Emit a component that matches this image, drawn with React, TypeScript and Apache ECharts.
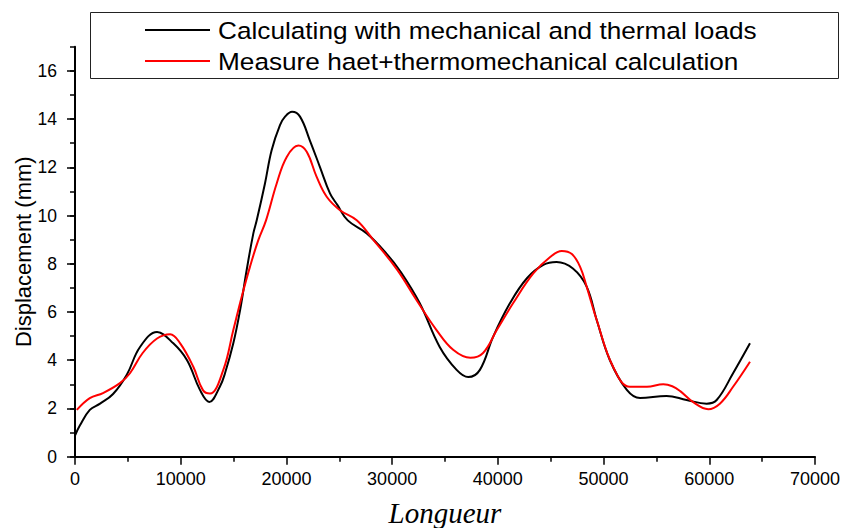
import React, { useEffect, useRef } from "react";
import * as echarts from "echarts";

const calcX = [0, 470, 1400, 2370, 3600, 4900, 6150, 7760, 9300, 10600, 11830, 12700, 13700, 14190, 14975, 15610, 16240, 16870, 17190, 17970, 18600, 19390, 19870, 20530, 21285, 22230, 23180, 24120, 24800, 25800, 27600, 29500, 30750, 32600, 34500, 36100, 37200, 38300, 39550, 41150, 42750, 44300, 45550, 47100, 48400, 49350, 50600, 52200, 53450, 55950, 57850, 59750, 60700, 62250, 63850];
const calcY = [0.88, 1.3, 1.94, 2.2, 2.6, 3.4, 4.55, 5.17, 4.7, 4.0, 2.76, 2.27, 2.9, 3.46, 4.7, 6.06, 7.74, 9.26, 9.8, 11.33, 12.71, 13.75, 14.1, 14.3, 14.1, 13.1, 12.0, 10.92, 10.45, 9.8, 9.26, 8.4, 7.7, 6.37, 4.55, 3.6, 3.3, 3.6, 4.97, 6.37, 7.4, 7.95, 8.07, 7.8, 7.05, 5.67, 4.0, 2.77, 2.43, 2.52, 2.35, 2.2, 2.35, 3.46, 4.7];

const measX = [170, 1400, 2650, 4250, 5200, 6400, 7760, 9000, 9950, 11200, 12100, 12770, 14030, 14975, 15770, 16555, 17340, 18070, 19080, 20030, 21130, 21920, 22860, 23810, 25070, 26650, 28200, 30450, 32300, 34200, 35800, 37400, 38600, 39900, 41450, 43350, 44950, 46050, 47000, 47800, 48400, 49350, 50900, 52500, 54100, 55650, 56500, 57250, 58450, 59900, 61000, 62250, 63850];
const measY = [1.94, 2.43, 2.64, 3.05, 3.46, 4.3, 4.9, 5.08, 4.7, 3.72, 2.76, 2.62, 3.6, 5.25, 6.63, 7.88, 8.98, 9.8, 11.33, 12.43, 12.9, 12.64, 11.6, 10.78, 10.22, 9.8, 9.0, 7.77, 6.5, 5.25, 4.42, 4.1, 4.3, 5.25, 6.37, 7.6, 8.28, 8.53, 8.4, 7.85, 7.05, 5.67, 3.73, 2.9, 2.9, 3.0, 2.92, 2.72, 2.27, 1.97, 2.2, 2.9, 3.94];

const seriesNames = [
  "Calculating with mechanical and thermal loads",
  "Measure haet+thermomechanical calculation",
];
const seriesColors = ["#000000", "#ff0000"];
const yMajorTicks = [0, 2, 4, 6, 8, 10, 12, 14, 16];

const zip = (xs: number[], ys: number[]) => xs.map((x, i) => [x, ys[i]]);

export default function App() {
  const ref = useRef<HTMLDivElement>(null);
  useEffect(() => {
    if (!ref.current) return;
    const chart = echarts.init(ref.current, undefined, { renderer: "svg" });
    const font = "Liberation Sans, Arial, sans-serif";
    const legendRows = [30, 61];
    const legendGraphics: any[] = [
      {
        type: "rect",
        shape: { x: 90.5, y: 12.5, width: 748, height: 66 },
        style: { fill: "#fff", stroke: "#222", lineWidth: 1 },
        z: 10,
      },
    ];
    seriesNames.forEach((name, i) => {
      legendGraphics.push({
        type: "line",
        shape: { x1: 145, y1: legendRows[i], x2: 210, y2: legendRows[i] },
        style: { stroke: seriesColors[i], lineWidth: 2 },
        z: 11,
      });
      legendGraphics.push({
        type: "text",
        x: 218,
        y: legendRows[i] + 1,
        scaleX: 1.115,
        style: {
          text: name,
          fontFamily: font,
          fontSize: 23.5,
          fill: "#000",
          verticalAlign: "middle",
          align: "left",
        },
        z: 11,
      });
    });
    chart.setOption({
      animation: false,
      backgroundColor: "#ffffff",
      grid: { left: 75, right: 29, top: 46.7, bottom: 71.3, containLabel: false, outerBoundsMode: "none" },
      graphic: legendGraphics,
      xAxis: {
        type: "value",
        min: 0,
        max: 70000,
        interval: 10000,
        name: "Longueur",
        nameLocation: "middle",
        nameGap: 42,
        nameTextStyle: { fontFamily: "Liberation Serif, serif", fontStyle: "italic", fontSize: 29, color: "#000" },
        axisLine: { show: true, onZero: false, lineStyle: { color: "#000", width: 2 } },
        axisTick: { show: true, inside: false, length: 8, lineStyle: { color: "#000", width: 1.5 } },
        minorTick: { show: true, splitNumber: 2, length: 5, lineStyle: { color: "#000", width: 1.5 } },
        axisLabel: { fontFamily: font, fontSize: 18, color: "#000", margin: 13, formatter: (v: number) => String(v) },
        splitLine: { show: false },
        minorSplitLine: { show: false },
      },
      yAxis: [
        {
          type: "value",
          min: 0,
          max: 17,
          interval: 2,
          name: "Displacement (mm)",
          nameLocation: "middle",
          nameGap: 41,
          nameMoveOverlap: false,
          nameTextStyle: { fontFamily: font, fontSize: 22, color: "#000" },
          axisLine: { show: true, onZero: false, lineStyle: { color: "#000", width: 2 } },
          axisTick: { show: true, length: 8, customValues: yMajorTicks, lineStyle: { color: "#000", width: 1.5 } },
          axisLabel: { fontFamily: font, fontSize: 17.5, color: "#000", margin: 18, customValues: yMajorTicks },
          splitLine: { show: false },
        },
        {
          type: "value",
          position: "left",
          min: 0,
          max: 17,
          interval: 1,
          axisLine: { show: false },
          axisTick: { show: true, length: 5, lineStyle: { color: "#000", width: 1.5 } },
          axisLabel: { show: false },
          splitLine: { show: false },
        },
      ],
      series: [
        {
          name: seriesNames[0],
          type: "line",
          data: zip(calcX, calcY),
          smooth: 0.4,
          showSymbol: false,
          color: seriesColors[0],
          lineStyle: { color: seriesColors[0], width: 2 },
          z: 3,
        },
        {
          name: seriesNames[1],
          type: "line",
          data: zip(measX, measY),
          smooth: 0.4,
          showSymbol: false,
          color: seriesColors[1],
          lineStyle: { color: seriesColors[1], width: 2 },
          z: 4,
        },
      ],
    });
    return () => chart.dispose();
  }, []);
  return <div ref={ref} style={{ width: 844, height: 528, position: "absolute", left: 0, top: 0 }} />;
}
